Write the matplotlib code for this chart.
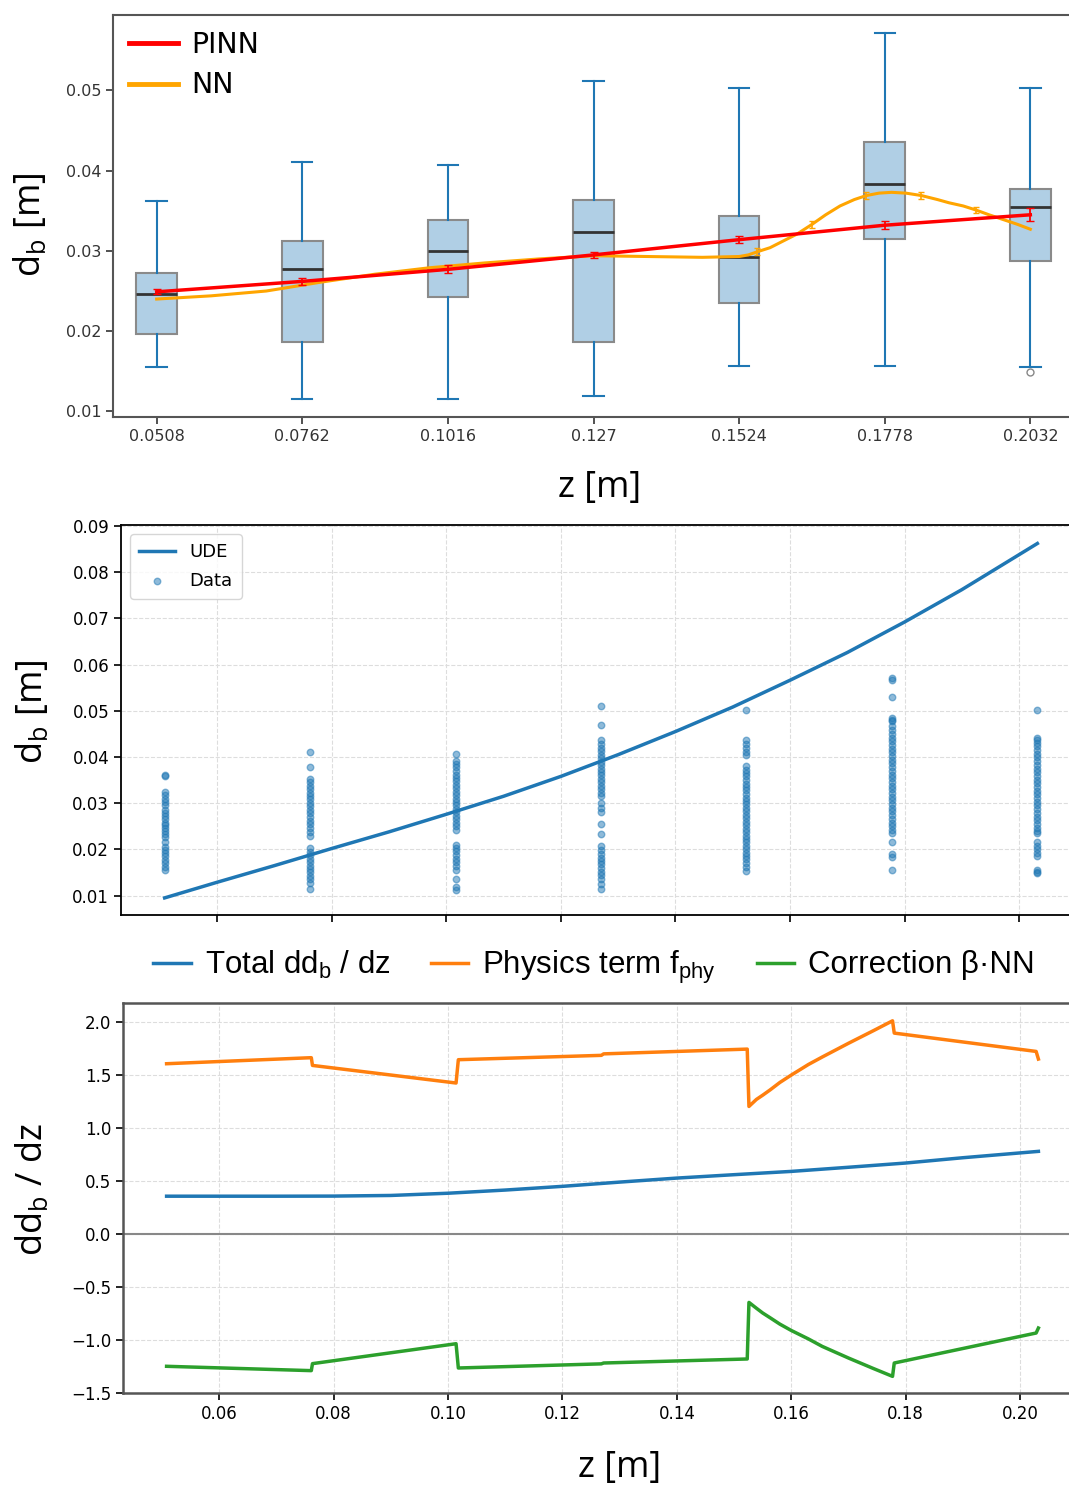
import matplotlib
matplotlib.use("Agg")
import matplotlib.pyplot as plt

W, H = 1069, 1488
BLUE = "#1f77b4"
LABEL_FONT = ["Open Sans", "DejaVu Sans"]

# ---------------- top panel: box plots of bubble diameter per depth ----------------
z_pos = [0.0508, 0.0762, 0.1016, 0.127, 0.1524, 0.1778, 0.2032]
z_labels = ["0.0508", "0.0762", "0.1016", "0.127", "0.1524", "0.1778", "0.2032"]
whis_lo = [0.0155, 0.0115, 0.0115, 0.0119, 0.0157, 0.0156, 0.0155]
q1 = [0.0197, 0.0186, 0.0243, 0.0187, 0.0235, 0.0315, 0.0288]
med = [0.0246, 0.0277, 0.0300, 0.0323, 0.0292, 0.0384, 0.0355]
q3 = [0.0273, 0.0312, 0.0338, 0.0363, 0.0343, 0.0436, 0.0377]
whis_hi = [0.0362, 0.0411, 0.0407, 0.0512, 0.0503, 0.0571, 0.0503]
fliers = [[], [], [], [], [], [], [0.0149]]

pinn = [0.0249, 0.0262, 0.0277, 0.0295, 0.0314, 0.0332, 0.0345]
pinn_err = [0.0003, 0.0004, 0.0005, 0.0004, 0.0004, 0.0005, 0.0008]

nn_z = [0.0508, 0.0603, 0.0699, 0.0794, 0.0889, 0.0984, 0.1080, 0.1175, 0.1270,
        0.1365, 0.1460, 0.1524, 0.1540, 0.1556, 0.1578, 0.1600, 0.1625, 0.1651,
        0.1675, 0.1700, 0.1725, 0.1746, 0.1768, 0.1790, 0.1815, 0.1842, 0.1870,
        0.1890, 0.1915, 0.1937, 0.1960, 0.1985, 0.2010, 0.2032]
nn = [0.0240, 0.0244, 0.0250, 0.0261, 0.0271, 0.0279, 0.0285, 0.0290, 0.0294,
      0.0293, 0.0292, 0.0293, 0.0295, 0.0299, 0.0304, 0.0312, 0.0321, 0.0333,
      0.0345, 0.0356, 0.0364, 0.0369, 0.0372, 0.0373, 0.0372, 0.0369, 0.0364,
      0.0360, 0.0356, 0.0351, 0.0345, 0.0339, 0.0333, 0.0327]
nn_err_z = [0.1556, 0.1651, 0.1746, 0.1842, 0.1937]
nn_err_v = [0.0299, 0.0333, 0.0369, 0.0369, 0.0351]

# ---------------- middle panel: UDE curve + raw data ----------------
ude_z = [0.0508, 0.06, 0.07, 0.08, 0.09, 0.10, 0.11, 0.12, 0.13, 0.14, 0.15,
         0.16, 0.17, 0.18, 0.19, 0.2032]
ude = [0.0095, 0.0129, 0.0165, 0.0202, 0.0238, 0.0276, 0.0315, 0.0358, 0.0405,
       0.0455, 0.0508, 0.0566, 0.0626, 0.0692, 0.0762, 0.0862]

data_cols = [
    [0.0362, 0.0358, 0.0325, 0.0318, 0.0310, 0.0302, 0.0295, 0.0285, 0.0278, 0.0272,
     0.0265, 0.0258, 0.0252, 0.0246, 0.0240, 0.0233, 0.0226, 0.0215, 0.0205, 0.0198,
     0.0192, 0.0185, 0.0178, 0.0170, 0.0162, 0.0155],
    [0.0411, 0.0379, 0.0352, 0.0345, 0.0338, 0.0330, 0.0322, 0.0315, 0.0308, 0.0300,
     0.0293, 0.0285, 0.0278, 0.0270, 0.0262, 0.0255, 0.0247, 0.0238, 0.0228, 0.0203,
     0.0195, 0.0188, 0.0180, 0.0172, 0.0165, 0.0158, 0.0150, 0.0142, 0.0135, 0.0128,
     0.0115],
    [0.0407, 0.0392, 0.0385, 0.0378, 0.0370, 0.0362, 0.0355, 0.0348, 0.0340, 0.0333,
     0.0325, 0.0318, 0.0310, 0.0302, 0.0295, 0.0288, 0.0280, 0.0272, 0.0265, 0.0258,
     0.0250, 0.0243, 0.0210, 0.0203, 0.0196, 0.0188, 0.0180, 0.0172, 0.0163, 0.0156,
     0.0135, 0.0118, 0.0113],
    [0.0511, 0.0470, 0.0436, 0.0428, 0.0420, 0.0412, 0.0405, 0.0398, 0.0390, 0.0382,
     0.0375, 0.0368, 0.0360, 0.0352, 0.0345, 0.0338, 0.0330, 0.0322, 0.0315, 0.0300,
     0.0290, 0.0280, 0.0254, 0.0233, 0.0207, 0.0198, 0.0190, 0.0182, 0.0175, 0.0168,
     0.0160, 0.0152, 0.0145, 0.0135, 0.0125, 0.0115],
    [0.0502, 0.0436, 0.0428, 0.0420, 0.0410, 0.0405, 0.0380, 0.0372, 0.0365, 0.0358,
     0.0350, 0.0342, 0.0335, 0.0328, 0.0320, 0.0312, 0.0305, 0.0298, 0.0290, 0.0283,
     0.0275, 0.0268, 0.0260, 0.0252, 0.0245, 0.0238, 0.0230, 0.0222, 0.0215, 0.0208,
     0.0200, 0.0192, 0.0186, 0.0179, 0.0170, 0.0162, 0.0154],
    [0.0571, 0.0567, 0.0530, 0.0485, 0.0480, 0.0477, 0.0466, 0.0458, 0.0450, 0.0442,
     0.0434, 0.0426, 0.0418, 0.0410, 0.0402, 0.0394, 0.0386, 0.0378, 0.0370, 0.0362,
     0.0354, 0.0346, 0.0338, 0.0330, 0.0322, 0.0314, 0.0306, 0.0298, 0.0290, 0.0282,
     0.0274, 0.0266, 0.0258, 0.0250, 0.0243, 0.0236, 0.0215, 0.0190, 0.0183, 0.0156],
    [0.0502, 0.0441, 0.0436, 0.0430, 0.0423, 0.0415, 0.0407, 0.0399, 0.0391, 0.0383,
     0.0375, 0.0367, 0.0359, 0.0351, 0.0343, 0.0335, 0.0327, 0.0319, 0.0311, 0.0303,
     0.0295, 0.0287, 0.0279, 0.0271, 0.0263, 0.0255, 0.0247, 0.0240, 0.0236, 0.0216,
     0.0208, 0.0200, 0.0193, 0.0186, 0.0156, 0.0152, 0.0149],
]

# ---------------- bottom panel: derivative decomposition ----------------
total_z = [0.0508, 0.06, 0.07, 0.08, 0.09, 0.10, 0.11, 0.12, 0.13, 0.14, 0.15,
           0.16, 0.17, 0.18, 0.19, 0.2032]
total = [0.357, 0.357, 0.357, 0.358, 0.364, 0.385, 0.415, 0.450, 0.490, 0.528,
         0.560, 0.591, 0.630, 0.670, 0.720, 0.780]

term_z = [0.0508, 0.0761, 0.0763, 0.1014, 0.1018, 0.1268, 0.1272, 0.1523, 0.1526,
          0.1539, 0.1550, 0.1563, 0.1580, 0.1600, 0.1630, 0.1654, 0.1700, 0.1744,
          0.1777, 0.1780, 0.2028, 0.2032]
phys = [1.607, 1.664, 1.591, 1.425, 1.645, 1.686, 1.700, 1.745, 1.204,
        1.270, 1.310, 1.360, 1.430, 1.500, 1.600, 1.670, 1.800, 1.920,
        2.012, 1.896, 1.723, 1.651]
corr = [-1.248, -1.289, -1.223, -1.035, -1.264, -1.225, -1.217, -1.179, -0.645,
        -0.700, -0.745, -0.790, -0.850, -0.910, -0.990, -1.060, -1.170, -1.270,
        -1.343, -1.217, -0.934, -0.887]

z_ticks = [0.06, 0.08, 0.10, 0.12, 0.14, 0.16, 0.18, 0.20]
XLIM = (0.04318, 0.21082)

fig = plt.figure(figsize=(W / 100, H / 100), dpi=100)


def px_axes(left, top, right, bottom):
    # axes placed by pixel box (panels run past the right edge, as in the source)
    return fig.add_axes([left / W, 1 - bottom / H, (right - left) / W, (bottom - top) / H])


# ===== top =====
ax1 = px_axes(113, 15, 1074, 417)
stats = []
for i in range(len(z_pos)):
    stats.append(dict(med=med[i], q1=q1[i], q3=q3[i], whislo=whis_lo[i],
                      whishi=whis_hi[i], fliers=fliers[i]))
ax1.bxp(stats, positions=z_pos, widths=0.0254 * 0.28, patch_artist=True,
        boxprops=dict(facecolor=(0.12, 0.47, 0.71, 0.35), edgecolor="#8a8a8a", linewidth=1.5),
        medianprops=dict(color="#333333", linewidth=2),
        whiskerprops=dict(color=BLUE, linewidth=1.5),
        capprops=dict(color=BLUE, linewidth=1.5),
        flierprops=dict(marker="o", markerfacecolor="none", markeredgecolor="#888888",
                        markersize=5))
ax1.plot(z_pos, pinn, color="red", lw=2.5, zorder=5, label="PINN")
ax1.errorbar(z_pos, pinn, yerr=pinn_err, fmt="none", ecolor="red", elinewidth=1.3,
             capsize=3, zorder=6)
ax1.plot(nn_z, nn, color="orange", lw=2.2, zorder=4, label="NN")
ax1.errorbar(nn_err_z, nn_err_v, yerr=0.0004, fmt="none", ecolor="orange",
             elinewidth=1.2, capsize=2.5, zorder=4)
ax1.set_xlim(*XLIM)
ax1.set_ylim(0.0093, 0.0594)
ax1.set_xticks(z_pos)
ax1.set_xticklabels(z_labels)
ax1.set_yticks([0.01, 0.02, 0.03, 0.04, 0.05])
ax1.set_yticklabels(["0.01", "0.02", "0.03", "0.04", "0.05"])
ax1.tick_params(labelsize=11.5, colors="#333333", width=1.2, length=5)
for s in ax1.spines.values():
    s.set_color("#555555")
    s.set_linewidth(1.5)
ax1.legend(loc="upper left", frameon=False, fontsize=20.5, handlelength=1.75,
           handletextpad=0.45, borderaxespad=0.15, labelspacing=0.45)
for line in ax1.get_legend().get_lines():
    line.set_linewidth(3.5)

fig.text(30 / W, 1 - 225 / H, "d$_\\mathregular{b}$ [m]", rotation=90, ha="center",
         va="center", fontsize=26, family=LABEL_FONT)
fig.text(600 / W, 1 - 488 / H, "z [m]", ha="center", va="center", fontsize=26,
         family=LABEL_FONT)

# ===== middle =====
ax2 = px_axes(121, 525, 1081, 915)
ax2.plot(ude_z, ude, color=BLUE, lw=2.5, label="UDE", zorder=3)
for i, vals in enumerate(data_cols):
    ax2.scatter([z_pos[i]] * len(vals), vals, s=22, color=BLUE, alpha=0.5,
                label="Data" if i == 0 else None, zorder=2)
ax2.set_xlim(*XLIM)
ax2.set_ylim(0.0058, 0.0902)
ax2.set_xticks(z_ticks)
ax2.set_xticklabels([])
ax2.set_yticks([0.01, 0.02, 0.03, 0.04, 0.05, 0.06, 0.07, 0.08, 0.09])
ax2.set_yticklabels(["0.01", "0.02", "0.03", "0.04", "0.05", "0.06", "0.07", "0.08", "0.09"])
ax2.grid(True, ls="--", color="#dddddd", lw=0.8)
ax2.set_axisbelow(True)
ax2.tick_params(labelsize=12, length=5, width=1.2)
for s in ax2.spines.values():
    s.set_linewidth(1.3)
ax2.legend(loc="upper left", fontsize=13, handlelength=2.0, borderaxespad=0.5,
           labelspacing=0.6, borderpad=0.5)

fig.text(33 / W, 1 - 712 / H, "d$_\\mathregular{b}$ [m]", rotation=90, ha="center",
         va="center", fontsize=26, family=LABEL_FONT)

# ===== bottom =====
ax3 = px_axes(123, 1003, 1082, 1393)
h1, = ax3.plot(total_z, total, color=BLUE, lw=2.5, label="Total dd$_\\mathregular{b}$ / dz")
h2, = ax3.plot(term_z, phys, color="#ff7f0e", lw=2.5,
               label="Physics term f$_\\mathregular{phy}$")
h3, = ax3.plot(term_z, corr, color="#2ca02c", lw=2.5, label="Correction β·NN")
ax3.axhline(0, color="#888888", lw=1.5, zorder=1)
ax3.set_xlim(*XLIM)
ax3.set_ylim(-1.5, 2.18)
ax3.set_xticks(z_ticks)
ax3.set_xticklabels(["0.06", "0.08", "0.10", "0.12", "0.14", "0.16", "0.18", "0.20"])
ax3.set_yticks([-1.5, -1.0, -0.5, 0.0, 0.5, 1.0, 1.5, 2.0])
ax3.set_yticklabels(["\u22121.5", "\u22121.0", "\u22120.5", "0.0", "0.5", "1.0", "1.5", "2.0"])
ax3.grid(True, ls="--", color="#dddddd", lw=0.8)
ax3.set_axisbelow(True)
ax3.tick_params(labelsize=12, length=5, width=1.2)
for s in ax3.spines.values():
    s.set_color("#555555")
    s.set_linewidth(1.8)

fig.legend(handles=[h1, h2, h3], loc="center", bbox_to_anchor=(594 / W, 1 - 967 / H),
           ncol=3, frameon=False, handlelength=1.2, handletextpad=0.45,
           columnspacing=1.3, prop=dict(family=["Liberation Sans", "DejaVu Sans"], size=22.5))

fig.text(33 / W, 1 - 1190 / H, "dd$_\\mathregular{b}$ / dz", rotation=90, ha="center",
         va="center", fontsize=26, family=LABEL_FONT)
fig.text(620 / W, 1 - 1468 / H, "z [m]", ha="center", va="center", fontsize=26,
         family=LABEL_FONT)

fig.savefig("out.png", dpi=100)
